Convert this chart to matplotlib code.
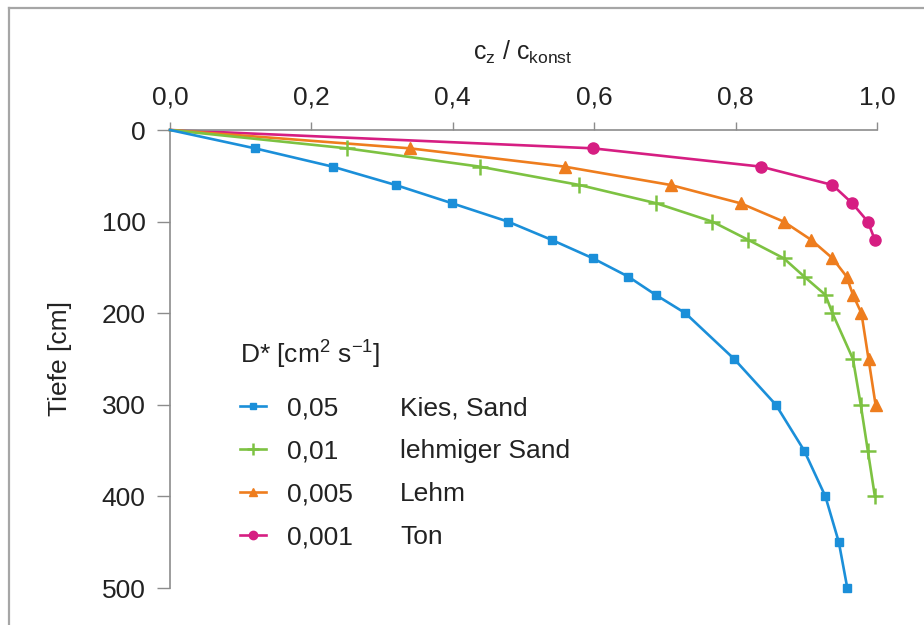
import numpy as np
import matplotlib
matplotlib.use('Agg')
import matplotlib.pyplot as plt
from matplotlib.lines import Line2D

plt.rcParams['font.family'] = ['Liberation Sans', 'DejaVu Sans']
plt.rcParams['mathtext.fontset'] = 'custom'
plt.rcParams['mathtext.rm'] = 'Liberation Sans'
plt.rcParams['mathtext.it'] = 'Liberation Sans:italic'

# Daten
tiefe_kies = [0, 20, 40, 60, 80, 100, 120, 140, 160, 180, 200, 250, 300, 350, 400, 450, 500]
c_kies = [0, 0.12, 0.23, 0.319, 0.399, 0.478, 0.54, 0.598, 0.648, 0.687, 0.729,
          0.798, 0.857, 0.897, 0.927, 0.946, 0.958]

tiefe_lsand = [0, 20, 40, 60, 80, 100, 120, 140, 160, 180, 200, 250, 300, 350, 400]
c_lsand = [0, 0.25, 0.438, 0.579, 0.688, 0.767, 0.818, 0.868, 0.897, 0.927, 0.937,
           0.966, 0.977, 0.987, 0.997]

tiefe_lehm = [0, 20, 40, 60, 80, 100, 120, 140, 160, 180, 200, 250, 300]
c_lehm = [0, 0.339, 0.558, 0.708, 0.807, 0.868, 0.907, 0.937, 0.957, 0.966, 0.978,
          0.988, 0.998]

tiefe_ton = [0, 20, 40, 60, 80, 100, 120]
c_ton = [0, 0.598, 0.836, 0.937, 0.965, 0.987, 0.997]

werte = ['0,05', '0,01', '0,005', '0,001']
namen = ['Kies, Sand', 'lehmiger Sand', 'Lehm', 'Ton']

x_ticks = [0, 0.2, 0.4, 0.6, 0.8, 1.0]
x_ticklabels = ['0,0', '0,2', '0,4', '0,6', '0,8', '1,0']
y_ticks = [0, 100, 200, 300, 400, 500]
y_ticklabels = ['0', '100', '200', '300', '400', '500']

W, H = 924, 625
fig = plt.figure(figsize=(W / 100, H / 100), dpi=100)
ax = fig.add_axes([170 / W, 1 - 588 / H, (877 - 170) / W, (588 - 130) / H])

# Rahmen
grau = '#a6a6a6'
fig.add_artist(Line2D([9 / W, 9 / W], [0, 1 - 8 / H], transform=fig.transFigure, color=grau, lw=1.6))
fig.add_artist(Line2D([9 / W, 1], [1 - 8 / H, 1 - 8 / H], transform=fig.transFigure, color=grau, lw=1.6))

lw = 1.9
l1, = ax.plot(c_kies, tiefe_kies, color='#1b8fd9', lw=lw, marker='s', ms=6.3,
              markevery=slice(1, None), clip_on=False, zorder=5)
l2, = ax.plot(c_lsand, tiefe_lsand, color='#7dc242', lw=lw, marker='+', ms=12, mew=1.8,
              markevery=slice(1, None), clip_on=False, zorder=4)
l3, = ax.plot(c_lehm, tiefe_lehm, color='#ee7d1e', lw=lw, marker='^', ms=8.5,
              markevery=slice(1, None), clip_on=False, zorder=3)
l4, = ax.plot(c_ton, tiefe_ton, color='#d61e82', lw=lw, marker='o', ms=8,
              markevery=slice(1, None), clip_on=False, zorder=2)

ax.set_xlim(0, 1)
ax.set_ylim(500, 0)
ax.xaxis.tick_top()
ax.set_xticks(x_ticks)
ax.set_xticklabels(x_ticklabels)
ax.set_yticks(y_ticks)
ax.set_yticklabels(y_ticklabels)
for s in ['bottom', 'right']:
    ax.spines[s].set_visible(False)
for s in ['top', 'left']:
    ax.spines[s].set_color('#8c8c8c')
    ax.spines[s].set_linewidth(1.2)
ax.tick_params(axis='x', length=6, width=1, color='#8c8c8c', pad=9, labelsize=19, labelcolor='#222222')
ax.tick_params(axis='y', length=9.5, width=1, color='#8c8c8c', pad=8, labelsize=19, labelcolor='#222222')

fig.text(523 / W, 1 - 60 / H, r'$\mathregular{c_z\ /\ c_{konst}}$', ha='center', va='baseline',
         fontsize=18, color='#222222')
fig.text(60 / W, 1 - 358 / H, 'Tiefe [cm]', rotation=90, ha='center', va='center',
         fontsize=19, color='#222222')

bp = 0.63
fs = 19
ls = 0.72
bp_px = bp * fs * 100 / 72
leg = ax.legend([l1, l2, l3, l4], werte, title=r'D* [cm$^2$ s$^{-1}$]', loc='upper left',
                bbox_to_anchor=((240 - bp_px) / W, 1 - (339 - bp_px) / H),
                bbox_transform=fig.transFigure,
                frameon=False, fontsize=fs, title_fontsize=fs, handlelength=1.0,
                handletextpad=0.8, labelspacing=ls, borderpad=bp, borderaxespad=0,
                markerscale=0.75, alignment='left')
# etwas mehr Abstand zwischen Titel und Einträgen
leg._legend_box.sep = ls * fs + 4.5
for t in leg.get_texts():
    t.set_color('#222222')
leg.get_title().set_color('#222222')

fig.canvas.draw()
inv = fig.transFigure.inverted()
for t, name in zip(leg.get_texts(), namen):
    bb = t.get_window_extent()
    y = inv.transform((0, (bb.y0 + bb.y1) / 2))[1]
    fig.text(400 / W, y, name, ha='left', va='center', fontsize=fs, color='#222222')

fig.savefig('out.png', dpi=100)
